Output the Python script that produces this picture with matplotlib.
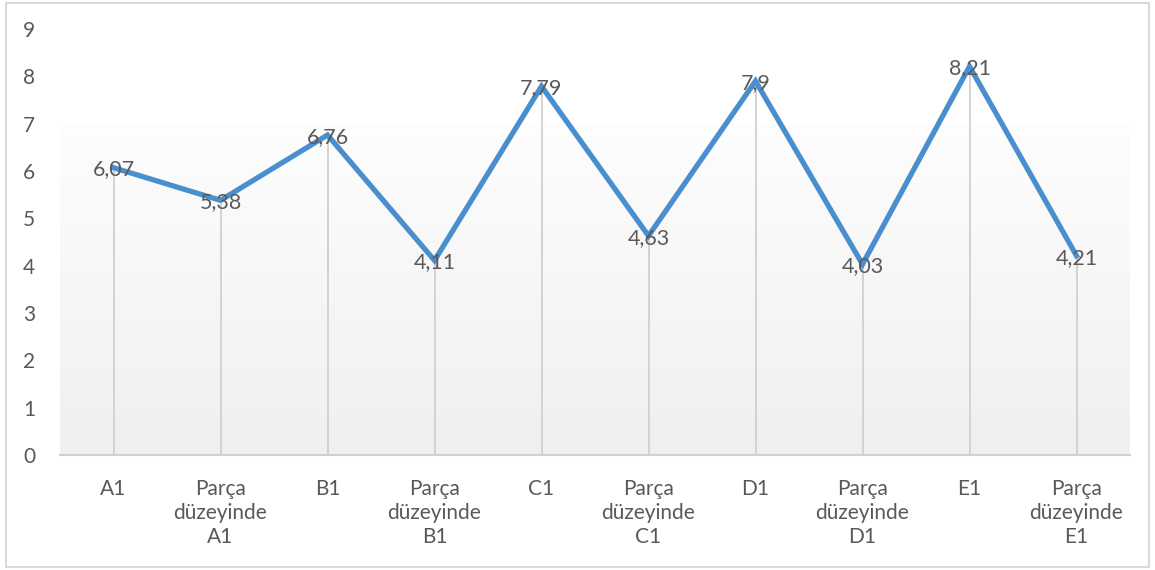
import numpy as np
import matplotlib.pyplot as plt
from matplotlib.patches import Rectangle

plt.rcParams['font.family'] = ['Lato', 'DejaVu Sans']

kategoriler = ['A1', 'Parça\ndüzeyinde\nA1', 'B1', 'Parça\ndüzeyinde\nB1', 'C1',
               'Parça\ndüzeyinde\nC1', 'D1', 'Parça\ndüzeyinde\nD1', 'E1',
               'Parça\ndüzeyinde\nE1']
degerler = [6.07, 5.38, 6.76, 4.11, 7.79, 4.63, 7.9, 4.03, 8.21, 4.21]
etiketler = ['6,07', '5,38', '6,76', '4,11', '7,79', '4,63', '7,9', '4,03', '8,21', '4,21']
y_ticks = list(range(0, 10))

x = np.arange(len(kategoriler))

fig = plt.figure(figsize=(11.55, 5.7), dpi=100)
ax = fig.add_axes([60/1155, 1 - 455/570, 1070/1155, 426/570])

# outer frame of the chart
fig.patches.append(Rectangle((6/1155, 3/570), 1143/1155, 564/570, transform=fig.transFigure,
                             fill=False, edgecolor='#d9d9d9', linewidth=1.5))

# soft gray gradient behind the lower part of the plot
grad = np.linspace(0.935, 0.99, 100).reshape(-1, 1)
ax.imshow(grad, cmap='gray', vmin=0, vmax=1, aspect='auto', origin='lower',
          extent=[-0.5, len(x) - 0.5, 0, 7], zorder=0)

# drop lines from axis to each point
ax.vlines(x, 0, degerler, color='#d0d0d0', linewidth=1.3, zorder=1)
ax.plot(x, degerler, color='#4a8fcd', linewidth=3.8, solid_joinstyle='miter', zorder=2)

for xi, v, lab in zip(x, degerler, etiketler):
    ax.text(xi, v - 0.04, lab, ha='center', va='center', fontsize=15.5, color='#595959', zorder=3)

ax.set_xlim(-0.5, len(x) - 0.5)
ax.set_ylim(0, 9)
ax.set_yticks(y_ticks)
ax.set_xticks(x)
ax.set_xticklabels(kategoriler, linespacing=1.25)
ax.tick_params(axis='both', length=0, labelsize=15, labelcolor='#595959')
ax.tick_params(axis='x', pad=17)
ax.tick_params(axis='y', pad=18)
for s in ['top', 'right', 'left']:
    ax.spines[s].set_visible(False)
ax.spines['bottom'].set_color('#d0d0d0')
ax.spines['bottom'].set_linewidth(1.5)
ax.set_facecolor('white')

fig.savefig('out.png', dpi=100)
